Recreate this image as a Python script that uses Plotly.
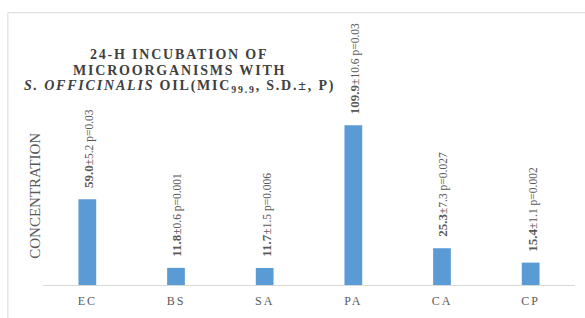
import plotly.graph_objects as go

categories = ["EC", "BS", "SA", "PA", "CA", "CP"]
means = [59.0, 11.8, 11.7, 109.9, 25.3, 15.4]
sds = [5.2, 0.6, 1.5, 10.6, 7.3, 1.1]
pvals = ["0.03", "0.001", "0.006", "0.03", "0.027", "0.002"]
title_lines = ["24-H INCUBATION OF", "MICROORGANISMS WITH",
               "<i>S. OFFICINALIS</i> OIL(MIC<sub>99.9</sub>, S.D.±, P)"]

SERIF = "Liberation Serif"
BAR = "#5B9BD5"
TXT = "#595959"

fig = go.Figure(go.Bar(x=categories, y=means, marker=dict(color=BAR, line=dict(width=0)),
                       width=0.2, hoverinfo="skip"))

for c, m, s, p in zip(categories, means, sds, pvals):
    fig.add_annotation(x=c, y=m, xref="x", yref="y", textangle=-90,
                       text=f"<b>{m:.1f}</b><span style='font-size:11.5px'>±{s} p={p}</span>",
                       showarrow=False, yanchor="bottom", xanchor="center", yshift=9, xshift=1,
                       font=dict(family=SERIF, size=13, color=TXT))

fig.add_annotation(x=-0.015, y=0.35, xref="paper", yref="paper", textangle=-90,
                   text="CONCENTRATION", showarrow=False, xanchor="center", yanchor="middle",
                   font=dict(family=SERIF, size=15, color=TXT))

for i, line in enumerate(title_lines):
    fig.add_annotation(x=0.256, y=0.94 - i * 0.061, xref="paper", yref="paper", align="center",
                       text=f"<span style='letter-spacing:1.8px'><b>{line}</b></span>",
                       showarrow=False, xanchor="center", yanchor="top",
                       font=dict(family=SERIF, size=14, color="#404040"))

fig.add_shape(type="rect", xref="paper", yref="paper", x0=-0.066, x1=1.2, y0=-0.3, y1=1.068,
              line=dict(color="#d9d9d9", width=1), fillcolor="rgba(0,0,0,0)", layer="below")

fig.update_layout(
    width=585, height=318,
    margin=dict(l=43, r=10, t=30, b=23),
    paper_bgcolor="white", plot_bgcolor="white",
    showlegend=False, bargap=0.8,
    xaxis=dict(showline=True, linecolor="#d9d9d9", linewidth=1, ticks="",
               tickvals=categories, ticklabelstandoff=5,
               ticktext=[f"<span style='letter-spacing:2px'>{c}</span>" for c in categories],
               tickfont=dict(family=SERIF, size=12, color=TXT), showgrid=False),
    yaxis=dict(visible=False, range=[0, 175.5], showgrid=False),
)

fig.write_html("out.html", config={"displayModeBar": False},
               post_script="document.body.style.margin='0';")
